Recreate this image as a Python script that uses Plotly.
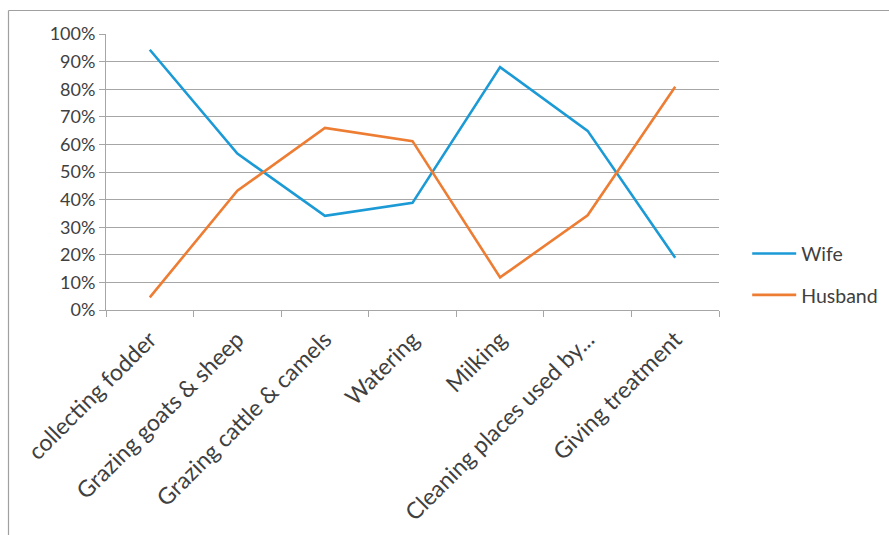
import plotly.graph_objects as go

categories = ["collecting fodder", "Grazing goats & sheep", "Grazing cattle & camels",
              "Watering", "Milking", "Cleaning places used by...", "Giving treatment"]
wife = [0.943, 0.567, 0.341, 0.388, 0.880, 0.649, 0.189]
husband = [0.046, 0.432, 0.660, 0.612, 0.118, 0.343, 0.809]
y_ticks = [i / 10 for i in range(11)]

FONT = "Lato, 'Open Sans', sans-serif"
TXT = "#404040"
GRID = "#a6a6a6"

fig = go.Figure()
fig.add_trace(go.Scatter(x=categories, y=wife, name="Wife", mode="lines",
                         line=dict(color="#1b9ad6", width=2.6), legendgroup="a"))
fig.add_trace(go.Scatter(x=categories, y=husband, name="Husband", mode="lines",
                         line=dict(color="#ee7d34", width=2.6), legendgroup="b"))

# chart frame (only top and left edges are visible in the cropped original)
PW, PH, L, B = 613, 276, 106, 310
fx0, fx1 = (8.5 - L) / PW, (892 - L) / PW
fy_top, fy_bot = (B - 10.5) / PH, (B - 540) / PH

fig.update_layout(
    width=889, height=535,
    margin=dict(l=106, r=170, t=34, b=225, autoexpand=False),
    paper_bgcolor="white", plot_bgcolor="white",
    font=dict(family=FONT, size=18, color=TXT),
    showlegend=True,
    legend=dict(x=1.046, xanchor="left", y=0.129, yanchor="middle",
                tracegroupgap=13, itemwidth=44, font=dict(size=19.5, color=TXT),
                bgcolor="rgba(0,0,0,0)"),
    xaxis=dict(type="category", range=[-0.5, 6.5], tickangle=-45, automargin=False,
               showline=True, linecolor=GRID, linewidth=1,
               ticks="outside", tickson="boundaries", ticklen=6, tickcolor=GRID,
               ticklabelstandoff=6,
               showgrid=False, tickfont=dict(size=23, color=TXT)),
    yaxis=dict(range=[0, 1], tickvals=y_ticks, tickformat=".0%", automargin=False,
               showline=True, linecolor=GRID, linewidth=1,
               ticks="outside", ticklen=6, tickcolor=GRID,
               showgrid=True, gridcolor=GRID, gridwidth=1,
               zeroline=False, tickfont=dict(size=18, color=TXT)),
    shapes=[
        dict(type="line", xref="paper", yref="paper", x0=fx0, x1=fx1, y0=fy_top, y1=fy_top,
             line=dict(color="#a0a0a0", width=1.2), layer="below"),
        dict(type="line", xref="paper", yref="paper", x0=fx0, x1=fx0, y0=fy_top, y1=fy_bot,
             line=dict(color="#a0a0a0", width=1.2), layer="below"),
    ],
)

fig.write_html("out.html")
